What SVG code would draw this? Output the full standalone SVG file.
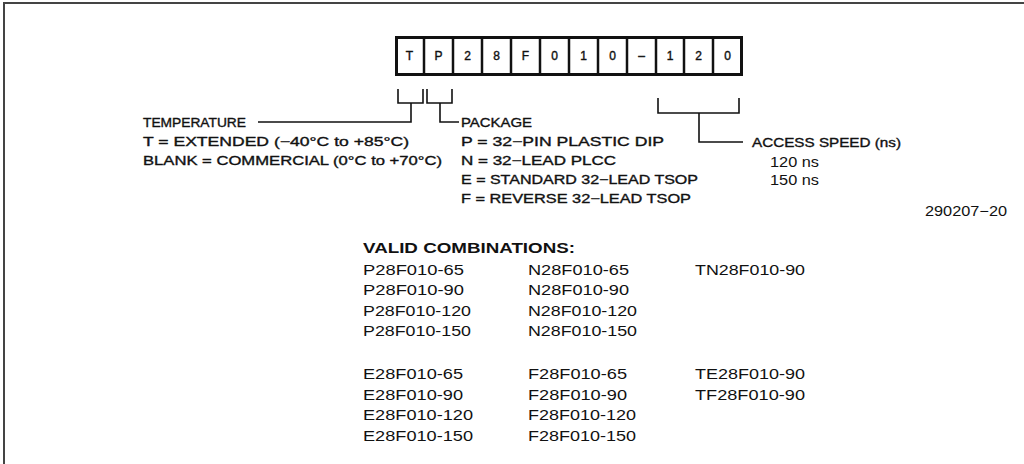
<svg xmlns="http://www.w3.org/2000/svg" width="1024" height="464" viewBox="0 0 1024 464">
<style>
.st{font-family:"Liberation Sans",Arial,sans-serif;font-size:12.5px;fill:#111;stroke:#111;stroke-width:0.35}
.cell{font-family:"Liberation Sans",Arial,sans-serif;font-size:12px;fill:#111;stroke:#111;stroke-width:0.4;text-anchor:middle}
.hv{font-family:"Liberation Sans",Arial,sans-serif;font-size:14px;fill:#111}
.b{font-weight:bold}
.ln{fill:none;stroke:#111;stroke-width:1.6}
</style>
<rect width="1024" height="464" fill="#fff"/>
<path d="M4,464 V3 H1024" fill="none" stroke="#444" stroke-width="2"/>

<g id="partbox">
<rect x="396.5" y="37.5" width="345" height="37" fill="#fff" stroke="#111" stroke-width="3"/>
<g stroke="#111" stroke-width="2.5">
<line x1="424" y1="37" x2="424" y2="75"/><line x1="453" y1="37" x2="453" y2="75"/>
<line x1="482" y1="37" x2="482" y2="75"/><line x1="511" y1="37" x2="511" y2="75"/>
<line x1="540" y1="37" x2="540" y2="75"/><line x1="569" y1="37" x2="569" y2="75"/>
<line x1="598" y1="37" x2="598" y2="75"/><line x1="627" y1="37" x2="627" y2="75"/>
<line x1="656" y1="37" x2="656" y2="75"/><line x1="684" y1="37" x2="684" y2="75"/>
<line x1="713" y1="37" x2="713" y2="75"/>
</g>
<text class="cell" x="409.5" y="60">T</text>
<text class="cell" x="438.5" y="60">P</text>
<text class="cell" x="467.5" y="60">2</text>
<text class="cell" x="496.5" y="60">8</text>
<text class="cell" x="525.5" y="60">F</text>
<text class="cell" x="554.5" y="60">0</text>
<text class="cell" x="583.5" y="60">1</text>
<text class="cell" x="612.5" y="60">0</text>
<text class="cell" x="641.5" y="60">–</text>
<text class="cell" x="670" y="60">1</text>
<text class="cell" x="698.5" y="60">2</text>
<text class="cell" x="727.5" y="60">0</text>
</g>

<g id="connectors">
<path class="ln" d="M398,89 V103 H423 V89"/>
<path class="ln" d="M427,89 V103 H452 V89"/>
<path class="ln" d="M658,98 V113 H739 V98"/>
<path class="ln" d="M411,103 V122 H258"/>
<path class="ln" d="M440,103 V122 H459"/>
<path class="ln" d="M699,113 V142 H743"/>
</g>

<g id="temperature">
<text class="st" x="143" y="127" textLength="103" lengthAdjust="spacingAndGlyphs">TEMPERATURE</text>
<text class="st" x="143" y="146" textLength="266" lengthAdjust="spacingAndGlyphs">T = EXTENDED (−40°C to +85°C)</text>
<text class="st" x="143" y="165" textLength="299" lengthAdjust="spacingAndGlyphs">BLANK = COMMERCIAL (0°C to +70°C)</text>
</g>

<g id="package">
<text class="st" x="461" y="127" textLength="71" lengthAdjust="spacingAndGlyphs">PACKAGE</text>
<text class="st" x="461" y="146" textLength="203" lengthAdjust="spacingAndGlyphs">P = 32−PIN PLASTIC DIP</text>
<text class="st" x="461" y="165" textLength="155" lengthAdjust="spacingAndGlyphs">N = 32−LEAD PLCC</text>
<text class="st" x="461" y="184" textLength="237" lengthAdjust="spacingAndGlyphs">E = STANDARD 32−LEAD TSOP</text>
<text class="st" x="461" y="203" textLength="230" lengthAdjust="spacingAndGlyphs">F = REVERSE 32−LEAD TSOP</text>
</g>

<g id="speed">
<text class="st" x="752" y="147" textLength="149" lengthAdjust="spacingAndGlyphs">ACCESS SPEED (ns)</text>
<text class="hv" x="770" y="167" textLength="49" lengthAdjust="spacingAndGlyphs">120 ns</text>
<text class="hv" x="770" y="185" textLength="49" lengthAdjust="spacingAndGlyphs">150 ns</text>
</g>

<g id="figno">
<text class="hv" x="925" y="216" textLength="82" lengthAdjust="spacingAndGlyphs">290207−20</text>
</g>

<g id="combinations">
<text class="hv b" x="363" y="253" textLength="212" lengthAdjust="spacingAndGlyphs">VALID COMBINATIONS:</text>
<text class="hv" x="363" y="275" textLength="101" lengthAdjust="spacingAndGlyphs">P28F010-65</text>
<text class="hv" x="363" y="295" textLength="101" lengthAdjust="spacingAndGlyphs">P28F010-90</text>
<text class="hv" x="363" y="316" textLength="108" lengthAdjust="spacingAndGlyphs">P28F010-120</text>
<text class="hv" x="363" y="336" textLength="108" lengthAdjust="spacingAndGlyphs">P28F010-150</text>
<text class="hv" x="528" y="275" textLength="101" lengthAdjust="spacingAndGlyphs">N28F010-65</text>
<text class="hv" x="528" y="295" textLength="101" lengthAdjust="spacingAndGlyphs">N28F010-90</text>
<text class="hv" x="528" y="316" textLength="109" lengthAdjust="spacingAndGlyphs">N28F010-120</text>
<text class="hv" x="528" y="336" textLength="109" lengthAdjust="spacingAndGlyphs">N28F010-150</text>
<text class="hv" x="695" y="275" textLength="110" lengthAdjust="spacingAndGlyphs">TN28F010-90</text>
<text class="hv" x="363" y="379" textLength="100" lengthAdjust="spacingAndGlyphs">E28F010-65</text>
<text class="hv" x="363" y="400" textLength="100" lengthAdjust="spacingAndGlyphs">E28F010-90</text>
<text class="hv" x="363" y="420" textLength="110" lengthAdjust="spacingAndGlyphs">E28F010-120</text>
<text class="hv" x="363" y="441" textLength="110" lengthAdjust="spacingAndGlyphs">E28F010-150</text>
<text class="hv" x="528" y="379" textLength="99" lengthAdjust="spacingAndGlyphs">F28F010-65</text>
<text class="hv" x="528" y="400" textLength="99" lengthAdjust="spacingAndGlyphs">F28F010-90</text>
<text class="hv" x="528" y="420" textLength="108" lengthAdjust="spacingAndGlyphs">F28F010-120</text>
<text class="hv" x="528" y="441" textLength="108" lengthAdjust="spacingAndGlyphs">F28F010-150</text>
<text class="hv" x="695" y="379" textLength="110" lengthAdjust="spacingAndGlyphs">TE28F010-90</text>
<text class="hv" x="695" y="400" textLength="110" lengthAdjust="spacingAndGlyphs">TF28F010-90</text>
</g>
</svg>
